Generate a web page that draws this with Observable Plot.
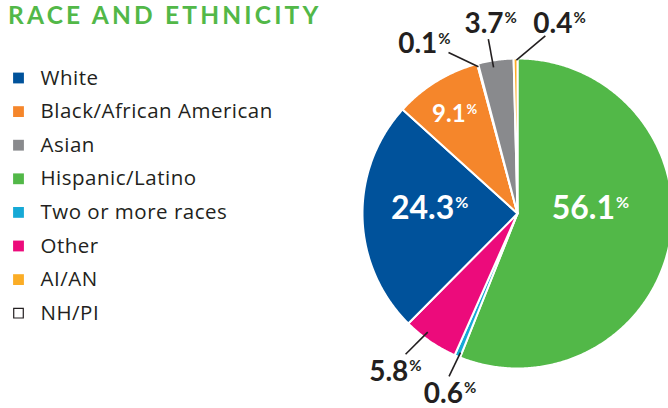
<!DOCTYPE html>
<html>
<head>
<meta charset="utf-8">
<script src="https://cdn.jsdelivr.net/npm/d3@7"></script>
<script src="https://cdn.jsdelivr.net/npm/@observablehq/plot@0.6"></script>
<style>
  html, body { margin: 0; padding: 0; background: #fff; }
  #wrap { position: relative; width: 668px; height: 408px; overflow: hidden; }
  #title { position: absolute; left: 8px; top: 0px; font-family: Lato, sans-serif; font-weight: 700;
           font-size: 24.5px; line-height: normal; letter-spacing: 3.2px; color: #52b848; z-index: 2; white-space: nowrap; }
  #chart { position: absolute; left: 0; top: 0; }
  #chart g[font-family*="Open Sans"] text { letter-spacing: 0.5px; }
</style>
</head>
<body>
<div id="wrap">
  <div id="title">RACE AND ETHNICITY</div>
  <div id="chart"></div>
</div>
<script>
// ---- data ----
const categories = ["White", "Black/African American", "Asian", "Hispanic/Latino",
                    "Two or more races", "Other", "AI/AN", "NH/PI"];
const shares = [24.3, 9.1, 3.7, 56.1, 0.6, 5.8, 0.4, 0.1];
const colors = ["#00529b", "#f5862b", "#898a8d", "#52b848", "#16a9d6", "#ec0b7b", "#fbad26", "#ffffff"];
// clockwise order of slices, starting at 12 o'clock
const pieOrder = ["Hispanic/Latino", "Two or more races", "Other", "White",
                  "Black/African American", "NH/PI", "Asian", "AI/AN"];

// ---- layout ----
const W = 668, H = 408;
const CX = 517, CY = 213, R = 155;
const ink = "#231f20";
// label anchor (junction between number and %), polar: angle in degrees clockwise from top, radius factor
const labelLayout = {
  "Hispanic/Latino":        {a: 93.5,  r: 0.63,  size: 32, pct: 16, fill: "#fff"},
  "White":                  {a: 264.6, r: 0.41,  size: 32, pct: 16, fill: "#fff"},
  "Black/African American": {a: 330.5, r: 0.68,  size: 24, pct: 13, fill: "#fff"},
  "NH/PI":                  {a: 333.4, r: 1.155, size: 28, pct: 15, fill: ink},
  "Asian":                  {a: 355.6, r: 1.171, size: 28, pct: 15, fill: ink},
  "AI/AN":                  {a: 16.9,  r: 1.22,  size: 28, pct: 15, fill: ink},
  "Other":                  {a: 213.1, r: 1.29,  size: 28, pct: 15, fill: ink},
  "Two or more races":      {a: 196.1, r: 1.27,  size: 28, pct: 15, fill: ink}
};
const leaderLayout = {
  "NH/PI":             {a1: 345.1, r1: 0.98, a2: 336.8, r2: 1.13},
  "Asian":             {a1: 350.7, r1: 0.955, a2: 350.5, r2: 1.14},
  "AI/AN":             {a1: 359.6, r1: 0.99, a2: 8.9,   r2: 1.16},
  "Other":             {a1: 217.1, r1: 0.96, a2: 218.5, r2: 1.16},
  "Two or more races": {a1: 202.3, r1: 0.97, a2: 202.8, r2: 1.14}
};
const legendX = 18, legendTextX = 40, legendTop = 77.5, legendStep = 33.6;

// ---- geometry helpers ----
const share = Object.fromEntries(categories.map((c, i) => [c, shares[i]]));
const px = (a, r) => CX + R * r * Math.sin(a);
const py = (a, r) => CY - R * r * Math.cos(a);
const deg = d => d * Math.PI / 180;

const arcs = d3.pie().sort(null).value(d => share[d])(pieOrder);
const slicePts = [];
for (const arc of arcs) {
  const k = arc.data;
  slicePts.push({k, x: CX, y: CY});
  const n = Math.max(2, Math.ceil((arc.endAngle - arc.startAngle) / deg(0.5)));
  for (let j = 0; j <= n; j++) {
    const a = arc.startAngle + (arc.endAngle - arc.startAngle) * j / n;
    slicePts.push({k, x: px(a, 1), y: py(a, 1)});
  }
  slicePts.push({k, x: CX, y: CY});
}

const labels = categories.map(k => {
  const L = labelLayout[k];
  const x = px(deg(L.a), L.r), y = py(deg(L.a), L.r);
  return {k, x, y, text: share[k].toFixed(1), ...L};
});
const leaders = Object.entries(leaderLayout).map(([k, L]) => ({
  k, x1: px(deg(L.a1), L.r1), y1: py(deg(L.a1), L.r1), x2: px(deg(L.a2), L.r2), y2: py(deg(L.a2), L.r2)
}));
const legendY = k => legendTop + categories.indexOf(k) * legendStep;

const chart = Plot.plot({
  width: W, height: H,
  margin: 0,
  x: {domain: [0, W], range: [0, W], axis: null},
  y: {domain: [0, H], range: [0, H], axis: null},
  color: {domain: categories, range: colors},
  style: {fontFamily: "Lato, sans-serif", background: "transparent", overflow: "visible"},
  marks: [
    // pie slices
    Plot.line(slicePts, {x: "x", y: "y", z: "k", fill: "k", stroke: "#fff", strokeWidth: 2, strokeLinejoin: "round", curve: "linear"}),
    // leader lines
    Plot.link(leaders, {x1: "x1", y1: "y1", x2: "x2", y2: "y2", stroke: ink, strokeWidth: 1.6}),
    // value labels (number + superscript %)
    ...labels.map(L => Plot.text([L], {x: "x", y: "y", text: "text", textAnchor: "end", lineAnchor: "bottom",
        fontSize: L.size, fontWeight: 700, fill: L.fill})),
    ...labels.map(L => Plot.text([L], {x: "x", y: d => d.y - d.size * 0.72, dx: 1, text: () => "%", textAnchor: "start", lineAnchor: "top",
        fontSize: L.pct, fontWeight: 700, fill: L.fill})),
    // legend
    Plot.dot(categories, {x: () => legendX, y: legendY, fill: d => d, symbol: "square", r: 6.1}),
    Plot.dot(["NH/PI"], {x: () => legendX, y: legendY, fill: "#fff", stroke: ink, strokeWidth: 1.2, symbol: "square", r: 5.4}),
    Plot.text(categories, {x: () => legendTextX, y: legendY, text: d => d, textAnchor: "start", fontSize: 20.5,
        fontFamily: "'Open Sans', sans-serif", fill: ink})
  ]
});
document.getElementById("chart").appendChild(chart);
</script>
</body>
</html>
